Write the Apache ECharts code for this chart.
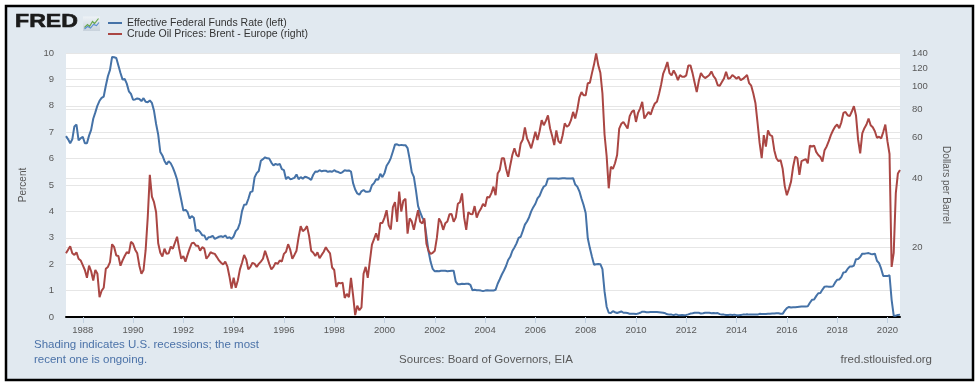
<!DOCTYPE html>
<html>
<head>
<meta charset="utf-8">
<script src="https://cdn.jsdelivr.net/npm/echarts@6/dist/echarts.min.js"></script>
<style>
html,body{margin:0;padding:0;background:#ffffff;}
#chart{width:980px;height:386px;}
</style>
</head>
<body>
<div id="chart"></div>
<script>
// ---- data (monthly, May 1987 - Jul 2020) ----
const startYear = 1987;
const startMonth = 5;
const monthCount = 399;

const xTickYears = ['1988','1990','1992','1994','1996','1998','2000','2002','2004',
  '2006','2008','2010','2012','2014','2016','2018','2020'];
const leftTicks = [0,1,2,3,4,5,6,7,8,9,10];
const rightTicks = [20,40,60,80,100,120,140];

// Effective Federal Funds Rate, percent
const fedFunds = [
  6.85,6.73,6.58,6.73,7.22,7.29,6.69,6.77,
  6.83,6.58,6.58,6.87,7.09,7.51,7.75,8.01,8.19,8.30,8.35,8.76,
  9.12,9.36,9.85,9.84,9.81,9.53,9.24,8.99,9.02,8.84,8.55,8.45,
  8.23,8.24,8.28,8.26,8.18,8.29,8.15,8.13,8.20,8.11,7.81,7.31,
  6.91,6.25,6.12,5.91,5.78,5.90,5.82,5.66,5.45,5.21,4.81,4.43,
  4.03,4.06,3.98,3.73,3.82,3.76,3.25,3.30,3.22,3.10,3.09,2.92,
  3.02,3.03,3.07,2.96,3.00,3.04,3.06,3.03,3.09,2.99,3.02,2.96,
  3.05,3.25,3.34,3.56,4.01,4.25,4.26,4.47,4.73,4.76,5.29,5.45,
  5.53,5.92,5.98,6.05,6.01,6.00,5.85,5.74,5.80,5.76,5.80,5.60,
  5.56,5.22,5.31,5.22,5.24,5.27,5.40,5.22,5.30,5.24,5.31,5.29,
  5.25,5.19,5.39,5.51,5.50,5.56,5.52,5.54,5.54,5.50,5.52,5.50,
  5.56,5.51,5.49,5.45,5.49,5.56,5.54,5.55,5.51,5.07,4.83,4.68,
  4.63,4.76,4.81,4.74,4.74,4.76,4.99,5.07,5.22,5.20,5.42,5.30,
  5.45,5.73,5.85,6.02,6.27,6.53,6.54,6.50,6.52,6.51,6.51,6.40,
  5.98,5.49,5.31,4.80,4.21,3.97,3.77,3.65,3.07,2.49,2.09,1.82,
  1.73,1.74,1.73,1.75,1.75,1.75,1.73,1.74,1.75,1.75,1.34,1.24,
  1.24,1.26,1.25,1.26,1.26,1.22,1.01,1.03,1.01,1.01,1.00,0.98,
  1.00,1.01,1.00,1.00,1.00,1.03,1.26,1.43,1.61,1.76,1.93,2.16,
  2.28,2.50,2.63,2.79,3.00,3.04,3.26,3.50,3.62,3.78,4.00,4.16,
  4.29,4.49,4.59,4.79,4.94,4.99,5.24,5.25,5.25,5.25,5.25,5.24,
  5.25,5.26,5.26,5.25,5.25,5.25,5.26,5.02,4.94,4.76,4.49,4.24,
  3.94,2.98,2.61,2.28,1.98,2.00,2.01,2.00,1.81,0.97,0.39,0.16,
  0.15,0.22,0.18,0.15,0.18,0.21,0.16,0.16,0.15,0.12,0.12,0.12,
  0.11,0.13,0.16,0.20,0.20,0.18,0.18,0.19,0.19,0.19,0.19,0.18,
  0.17,0.16,0.14,0.10,0.09,0.09,0.07,0.10,0.08,0.07,0.08,0.07,
  0.08,0.10,0.13,0.14,0.16,0.16,0.16,0.13,0.14,0.16,0.16,0.16,
  0.14,0.15,0.14,0.15,0.11,0.09,0.09,0.08,0.08,0.09,0.08,0.09,
  0.07,0.07,0.08,0.09,0.09,0.10,0.09,0.09,0.09,0.09,0.09,0.12,
  0.11,0.11,0.11,0.12,0.12,0.13,0.13,0.14,0.14,0.12,0.12,0.24,
  0.34,0.38,0.36,0.37,0.37,0.38,0.39,0.40,0.40,0.40,0.41,0.54,
  0.65,0.66,0.79,0.90,0.91,1.04,1.15,1.16,1.15,1.15,1.16,1.30,
  1.41,1.42,1.51,1.69,1.70,1.82,1.91,1.91,1.95,2.19,2.20,2.27,
  2.40,2.40,2.41,2.42,2.39,2.38,2.40,2.13,2.04,1.83,1.55,1.55,
  1.55,1.58,0.65,0.05,0.05,0.08,0.09
];

// Crude Oil Prices: Brent - Europe, dollars per barrel
const brentOil = [
  18.9,19.6,20.3,18.9,18.6,19.1,17.9,17.6,
  16.8,16.0,14.8,16.7,15.8,14.4,16.0,15.4,12.2,13.0,13.4,16.2,
  16.5,17.3,20.7,20.1,18.5,18.4,16.7,17.6,18.4,19.1,18.9,21.2,
  20.8,19.6,18.9,16.7,15.4,16.0,19.5,27.0,41.4,33.3,31.5,28.5,
  20.9,19.0,18.3,19.8,18.8,18.9,20.2,19.8,21.0,22.3,19.8,17.9,
  18.4,17.4,18.6,19.8,20.9,21.0,20.4,20.4,19.4,20.1,19.8,17.9,
  18.4,19.1,18.9,18.8,18.2,17.6,17.2,16.9,17.4,16.6,15.0,13.3,
  14.8,13.4,14.4,16.1,17.2,18.6,17.8,16.1,16.5,17.2,17.0,16.5,
  17.0,17.4,17.9,19.4,18.2,17.0,16.1,16.5,17.2,17.0,17.6,17.4,
  18.8,19.2,20.7,19.6,17.9,18.6,19.4,22.2,24.8,23.6,24.0,24.8,
  22.5,19.4,19.0,18.4,19.1,18.0,18.6,19.2,20.1,19.4,18.9,16.4,
  16.0,13.5,14.1,14.0,14.1,12.1,12.6,12.2,14.8,12.4,10.2,11.2,
  10.7,11.0,15.4,16.5,14.8,17.5,20.6,21.8,23.1,21.5,25.6,25.6,
  27.0,29.1,25.0,24.0,30.0,31.5,25.9,35.0,28.7,32.0,32.6,23.0,
  26.8,26.0,23.9,26.5,29.1,25.9,25.5,26.8,20.8,19.4,18.8,19.0,
  19.4,22.1,26.8,25.8,23.9,25.5,26.0,27.9,28.0,25.9,27.0,31.0,
  31.5,34.4,27.0,23.9,28.5,28.0,27.9,30.3,27.0,28.5,29.5,31.0,
  30.2,33.2,33.0,34.5,36.8,33.8,42.0,43.5,48.9,48.9,44.0,40.6,
  45.5,50.5,54.0,50.5,49.7,56.7,59.0,66.6,59.6,57.0,54.0,58.5,
  63.7,58.6,64.0,71.5,68.0,71.0,75.1,66.0,61.0,55.8,64.6,58.0,
  56.7,61.5,69.3,67.0,68.0,71.5,77.7,72.7,79.5,89.9,94.7,91.7,
  91.7,103.5,104.0,114.5,125.0,139.5,124.0,115.0,93.4,62.0,50.0,36.2,
  44.9,44.0,46.5,50.5,65.8,69.0,70.3,68.0,65.8,74.5,77.7,79.0,
  70.3,77.0,80.5,85.9,72.7,75.1,77.7,75.5,80.5,84.5,86.0,93.0,
  102.0,114.0,120.0,128.0,114.5,112.0,117.6,113.0,106.7,112.3,110.5,110.3,
  112.0,123.7,123.7,114.5,104.0,94.7,106.0,114.5,111.0,109.0,110.5,112.3,
  116.4,111.0,108.0,101.5,101.0,104.7,108.5,116.0,108.3,109.0,112.3,110.5,
  108.3,110.3,106.7,108.0,110.0,112.3,103.5,101.0,93.4,85.0,70.0,57.0,
  48.9,61.6,54.9,64.6,61.6,61.0,53.0,48.9,47.5,48.0,44.0,37.0,
  33.8,36.0,38.7,44.9,49.7,48.9,41.4,47.5,48.0,48.5,46.5,55.5,
  55.0,55.5,52.1,50.5,49.5,47.3,53.0,55.0,58.0,61.6,64.5,67.0,
  68.5,66.0,70.0,76.9,77.7,75.1,74.5,78.0,82.3,75.0,59.0,51.3,
  62.7,66.0,68.5,72.7,68.0,66.6,64.0,60.0,60.6,59.6,63.5,68.5,
  58.0,51.0,16.5,19.0,34.5,42.0,43.5
];

// ---- build ----
const months = [];
for (let i = 0; i < monthCount; i++) {
  const t = (startYear * 12 + (startMonth - 1)) + i;
  const y = Math.floor(t / 12), m = t % 12 + 1;
  months.push(y + '-' + (m < 10 ? '0' + m : '' + m));
}
const isTick = (idx, val) => val.slice(5) === '01' && xTickYears.indexOf(val.slice(0, 4)) >= 0;

const FONT = 'Liberation Sans, Arial, sans-serif';
const GRID_COLOR = '#e6e6e6';
const LABEL_COLOR = '#595959';

const chart = echarts.init(document.getElementById('chart'), null, {renderer: 'canvas'});
chart.setOption({
  animation: false,
  backgroundColor: '#ffffff',
  textStyle: {fontFamily: FONT},
  grid: {left: 66, right: 80, top: 53, bottom: 69, show: true, backgroundColor: '#ffffff', borderWidth: 0},
  legend: {
    orient: 'vertical', left: 108, top: 17.5, padding: 0, itemGap: 0,
    itemWidth: 14, itemHeight: 2, icon: 'rect',
    textStyle: {fontFamily: FONT, fontSize: 10.5, color: '#333333', lineHeight: 10.3},
    data: ['Effective Federal Funds Rate (left)', 'Crude Oil Prices: Brent - Europe (right)']
  },
  xAxis: {
    type: 'category', data: months, boundaryGap: false,
    axisLine: {lineStyle: {color: '#000000', width: 2}},
    axisTick: {show: true, interval: isTick, length: 6, lineStyle: {color: '#c0d0e0'}},
    axisLabel: {interval: isTick, formatter: v => v.slice(0, 4), fontSize: 9.5, color: LABEL_COLOR, margin: 8, fontFamily: FONT},
    splitLine: {show: false}
  },
  yAxis: [
    {
      type: 'value', min: leftTicks[0], max: leftTicks[leftTicks.length - 1], interval: 1,
      name: 'Percent', nameLocation: 'middle', nameGap: 38,
      nameTextStyle: {fontSize: 10, color: LABEL_COLOR, fontFamily: FONT},
      axisLine: {show: false}, axisTick: {show: false},
      axisLabel: {fontSize: 9.5, color: LABEL_COLOR, margin: 12, fontFamily: FONT},
      splitLine: {show: true, lineStyle: {color: GRID_COLOR, width: 1}}
    },
    {
      type: 'value', position: 'right',
      min: Math.log10(10), max: Math.log10(rightTicks[rightTicks.length - 1]),
      name: 'Dollars per Barrel', nameLocation: 'middle', nameGap: 41, nameRotate: -90,
      nameTextStyle: {fontSize: 10, color: LABEL_COLOR, fontFamily: FONT},
      axisLine: {show: false},
      axisTick: {show: false, customValues: rightTicks.map(v => Math.log10(v))},
      axisLabel: {
        customValues: rightTicks.map(v => Math.log10(v)),
        formatter: v => String(Math.round(Math.pow(10, v))),
        fontSize: 9.5, color: LABEL_COLOR, margin: 12, fontFamily: FONT
      },
      splitLine: {show: true, lineStyle: {color: GRID_COLOR, width: 1}}
    }
  ],
  series: [
    {
      name: 'Effective Federal Funds Rate (left)', type: 'line', yAxisIndex: 0,
      data: fedFunds, showSymbol: false, symbol: 'none',
      lineStyle: {color: '#4572a7', width: 2}, itemStyle: {color: '#4572a7'}, z: 3
    },
    {
      name: 'Crude Oil Prices: Brent - Europe (right)', type: 'line', yAxisIndex: 1,
      data: brentOil.map(v => Math.log10(v)), showSymbol: false, symbol: 'none',
      lineStyle: {color: '#aa4643', width: 2}, itemStyle: {color: '#aa4643'}, z: 4
    }
  ],
  graphic: [
    {type: 'rect', z: -10, shape: {x: 6, y: 6, width: 967, height: 374},
     style: {fill: '#e1e9f0', stroke: '#000000', lineWidth: 2.5}},
    {type: 'text', x: 15, y: 22, scaleX: 1.25, z: 5,
     style: {text: 'FRED', x: 0, y: 0, font: 'bold 18.5px ' + FONT, fill: '#1b1b1b',
             stroke: '#1b1b1b', lineWidth: 0.6, verticalAlign: 'middle', align: 'left'}},
    {type: 'rect', z: 5, shape: {x: 83, y: 16.5, width: 17, height: 14.5},
     style: {fill: new echarts.graphic.LinearGradient(0, 0, 0, 1, [
       {offset: 0, color: '#eef2f6'}, {offset: 1, color: '#c8d2dc'}])}},
    {type: 'polyline', z: 6, shape: {points: [[84.5,27.5],[87.5,24.5],[89.5,26.5],[92.5,21.5],[94.5,23.5],[98.5,18.5]]},
     style: {stroke: '#6aa84f', lineWidth: 1.2, fill: null}},
    {type: 'polyline', z: 6, shape: {points: [[84.5,29],[87.5,26.5],[90.5,28],[93.5,24.5],[96.5,25.5],[99,22.5]]},
     style: {stroke: '#5a8fd0', lineWidth: 1.1, fill: null}},
    {type: 'text', z: 5, x: 34, y: 344.7,
     style: {text: 'Shading indicates U.S. recessions; the most', font: '11.5px ' + FONT, fill: '#4b72a8', verticalAlign: 'middle'}},
    {type: 'text', z: 5, x: 34, y: 359.7,
     style: {text: 'recent one is ongoing.', font: '11.5px ' + FONT, fill: '#4b72a8', verticalAlign: 'middle'}},
    {type: 'text', z: 5, x: 486, y: 360,
     style: {text: 'Sources: Board of Governors, EIA', font: '11.5px ' + FONT, fill: '#595959', align: 'center', verticalAlign: 'middle'}},
    {type: 'text', z: 5, x: 932, y: 360,
     style: {text: 'fred.stlouisfed.org', font: '11.5px ' + FONT, fill: '#595959', align: 'right', verticalAlign: 'middle'}}
  ]
});
</script>
</body>
</html>
